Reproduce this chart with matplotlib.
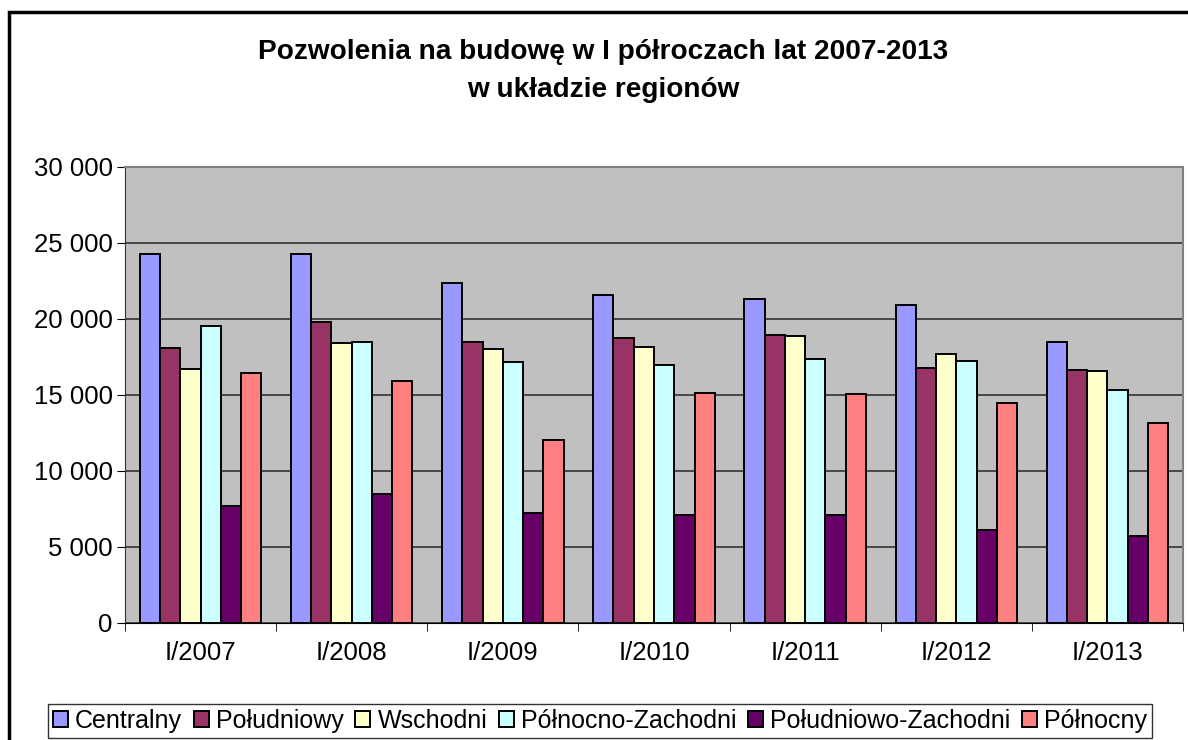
import numpy as np
import matplotlib.pyplot as plt
from matplotlib.patches import Rectangle
from matplotlib.ticker import FuncFormatter, MultipleLocator

plt.rcParams['font.family'] = ['Liberation Sans', 'DejaVu Sans']

# data
periods = ['I/2007', 'I/2008', 'I/2009', 'I/2010', 'I/2011', 'I/2012', 'I/2013']
regions = ['Centralny', 'Południowy', 'Wschodni', 'Północno-Zachodni',
           'Południowo-Zachodni', 'Północny']
centralny = [24300, 24300, 22400, 21600, 21300, 20950, 18500]
poludniowy = [18100, 19800, 18500, 18750, 18950, 16800, 16650]
wschodni = [16700, 18400, 18050, 18150, 18850, 17700, 16600]
pn_zachodni = [19550, 18500, 17150, 17000, 17350, 17250, 15300]
pd_zachodni = [7700, 8500, 7250, 7100, 7100, 6100, 5750]
polnocny = [16450, 15950, 12050, 15150, 15050, 14450, 13150]

series = [centralny, poludniowy, wschodni, pn_zachodni, pd_zachodni, polnocny]
colors = ['#9999FF', '#993366', '#FFFFCC', '#CCFFFF', '#660066', '#FF8080']

fig = plt.figure(figsize=(11.88, 7.4), dpi=100)
ax = fig.add_axes([125 / 1188, 1 - 623 / 740, 1058 / 1188, 456 / 740])
ax.set_facecolor('#C0C0C0')

# outer chart frame (only left and top visible)
fig.patches.append(Rectangle((9 / 1188, -0.1), 1.2, 1 - 12 / 740 + 0.1,
                             transform=fig.transFigure, fill=False,
                             edgecolor='black', linewidth=2.5))

x = np.arange(len(periods))
w = 0.134
for i, (vals, c) in enumerate(zip(series, colors)):
    ax.bar(x + (i - 2.5) * w, vals, w, color=c, edgecolor='black',
           linewidth=1.4, label=regions[i], zorder=3)

ax.set_xlim(-0.5, len(periods) - 0.5)
ax.set_ylim(0, 30000)
ax.yaxis.set_major_locator(MultipleLocator(5000))
ax.yaxis.set_major_formatter(FuncFormatter(lambda v, p: f'{int(v):,}'.replace(',', ' ')))
ax.grid(axis='y', color='#333333', linewidth=1.2, zorder=1)

ax.set_xticks(x)
ax.set_xticklabels(periods)
ax.set_xticks(np.arange(len(periods) + 1) - 0.5, minor=True)
ax.tick_params(axis='x', which='major', length=0, pad=13, labelsize=18.5)
ax.tick_params(axis='x', which='minor', length=6, color='black')
ax.tick_params(axis='y', length=6, pad=3, labelsize=18.5, color='black')

for side in ['top', 'right']:
    ax.spines[side].set_color('#808080')
    ax.spines[side].set_linewidth(1.5)
ax.spines['left'].set_color('#333333')
ax.spines['bottom'].set_color('black')

fig.text(0.508, 1 - 52 / 740, 'Pozwolenia na budowę w I półroczach lat 2007-2013',
         ha='center', va='center', fontsize=20.2, fontweight='bold')
fig.text(0.508, 1 - 90 / 740, 'w układzie regionów',
         ha='center', va='center', fontsize=20.2, fontweight='bold')

leg = fig.legend(loc='center', bbox_to_anchor=(600 / 1188, 1 - 721 / 740), ncol=6,
                 fontsize=18, frameon=True, fancybox=False, edgecolor='black',
                 handlelength=0.6, handleheight=0.6, handletextpad=0.3,
                 columnspacing=0.45, borderpad=0.2, borderaxespad=0)
leg.get_frame().set_linewidth(1.0)

fig.savefig('out.png', dpi=100, facecolor='white')
